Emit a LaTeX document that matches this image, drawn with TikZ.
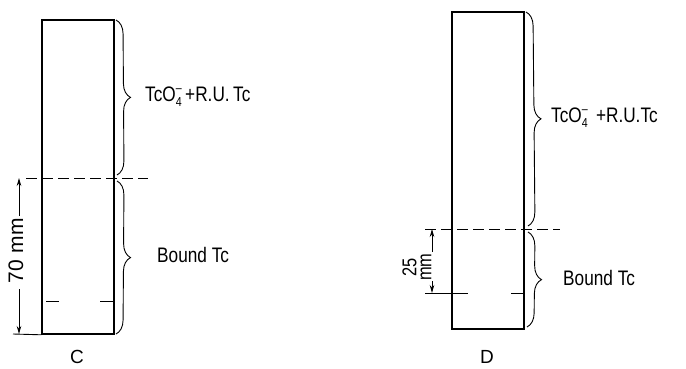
\documentclass[tikz,border=0pt]{standalone}
\usepackage{fontspec}
\setmainfont[FakeStretch=0.82]{Liberation Sans}
\newfontfamily\widefont{Liberation Sans}
\usetikzlibrary{arrows.meta,decorations.pathreplacing}
\begin{document}
\begin{tikzpicture}[x=1pt,y=-1pt,
  column/.style={draw,line width=1.6pt,minimum width=72pt,inner sep=0pt},
  cut/.style={line width=0.9pt,dash pattern=on 11pt off 5pt},
  thin/.style={line width=0.9pt},
  dimline/.style={line width=0.8pt},
  tip/.style={-{Stealth[length=8pt,width=4.5pt]}},
  brc/.style={line width=0.9pt,decorate,decoration={brace,amplitude=14pt}},
  lab/.style={font=\fontsize{21}{23}\selectfont,inner sep=0pt,anchor=west},
  captxt/.style={font=\widefont\fontsize{19}{21}\selectfont,inner sep=0pt}]
\useasboundingbox (0,0) rectangle (686,369);
\newcommand\tcox{TcO\rlap{\raisebox{-0.45ex}{\fontsize{13}{13}\selectfont 4}}\raisebox{0.8ex}{\fontsize{13}{13}\selectfont --}}
% ---------------- C ----------------
\node[column,minimum height=314pt] (colC) at (78,177) {};
\draw[cut] (26,178) coordinate (cutCl) -- (148,178) coordinate (cutCr);
\draw[thin] (46,301) coordinate (tCa) -- (59,301) coordinate (tCb);
\draw[thin] (100,301) coordinate (tCc) -- (114,301) coordinate (tCd);
\draw[thin] (13,334) coordinate (extC) -- (colC.south west);
\coordinate (dimCtop) at (19,178);
\coordinate (dimCbot) at (19,334);
\node[rotate=90,inner sep=2pt,font=\widefont\fontsize{21}{23}\selectfont] (labC) at (16,251) {70\,\,mm};
\draw[dimline,tip] (19,216) coordinate (dCa) -- (dimCtop);
\draw[dimline,tip] (19,289) coordinate (dCb) -- (dimCbot);
\coordinate (bCa) at (116,20);
\coordinate (bCb) at (117,175);
\coordinate (bCc) at (117,181);
\coordinate (bCd) at (116,334);
\draw[brc] (bCa) -- (bCb);
\draw[brc] (bCc) -- (bCd);
\node[lab] (txtC1) at (145,97) {\tcox\,+R.U.\,Tc};
\node[lab] (txtC2) at (157,255) {Bound Tc};
\node[captxt] (nameC) at (77,357) {C};
% ---------------- D ----------------
\node[column,minimum height=317pt] (colD) at (488,170.5) {};
\draw[cut] (425,229) coordinate (cutDl) -- (560,229) coordinate (cutDr);
\draw[thin] (425,293) coordinate (extD) -- (468,293) coordinate (tDb);
\draw[thin] (511,293) coordinate (tDc) -- (524,293) coordinate (tDd);
\coordinate (dimDtop) at (432,229);
\coordinate (dimDbot) at (432,293);
\node[rotate=90,align=center,font=\fontsize{20}{15}\selectfont,inner sep=0pt] (labD) at (417,267) {25\\mm};
\draw[dimline,tip] (432,252) coordinate (dDa) -- (dimDtop);
\draw[dimline,tip] (432,281) coordinate (dDb) -- (dimDbot);
\coordinate (bDa) at (526,12);
\coordinate (bDb) at (528,226);
\coordinate (bDc) at (528,232);
\coordinate (bDd) at (527,327);
\draw[brc] (bDa) -- (bDb);
\draw[brc] (bDc) -- (bDd);
\node[lab] (txtD1) at (551,118) {\tcox\ \,+R.U.Tc};
\node[lab] (txtD2) at (563,278) {Bound Tc};
\node[captxt] (nameD) at (487,357) {D};
\end{tikzpicture}
\end{document}
